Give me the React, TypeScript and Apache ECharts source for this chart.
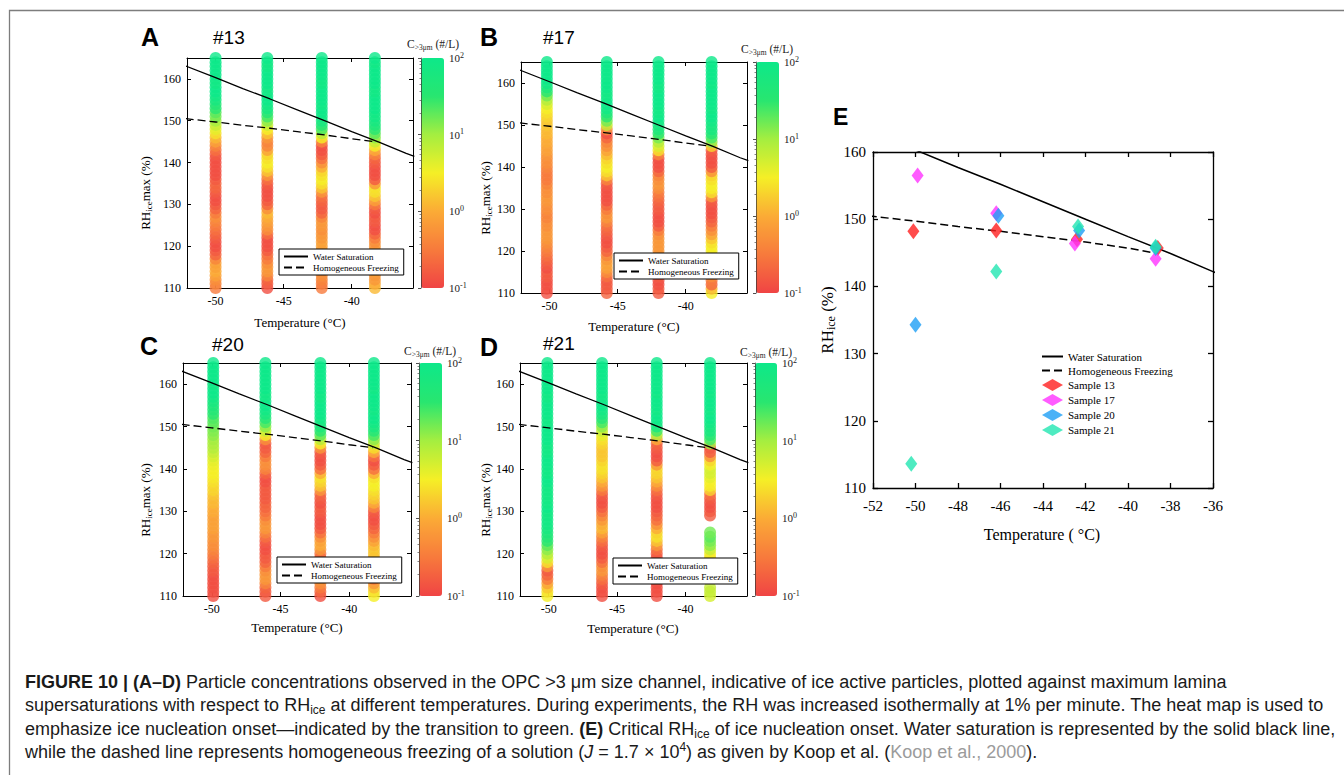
import { useEffect, useRef } from "react";
import * as echarts from "echarts";

const SERIF = "'Liberation Serif', 'Times New Roman', Times, serif";
const SANS = "'Liberation Sans', Arial, Helvetica, sans-serif";

// Maximum lamina RH_ice (%) levels sampled along each isothermal run
const rhLevels = [
  110, 111, 112, 113, 114, 115, 116, 117, 118, 119,
  120, 121, 122, 123, 124, 125, 126, 127, 128, 129,
  130, 131, 132, 133, 134, 135, 136, 137, 138, 139,
  140, 141, 142, 143, 144, 145, 146, 147, 148, 149,
  150, 151, 152, 153, 154, 155, 156, 157, 158, 159,
  160, 161, 162, 163, 164, 165,
];

// Run temperatures (°C) for each sample
const tempsS13 = [-50.0, -46.2, -42.2, -38.3];
const tempsS17 = [-50.2, -45.8, -42.0, -38.1];
const tempsS20 = [-49.9, -46.1, -42.1, -38.2];
const tempsS21 = [-50.1, -46.1, -42.1, -38.2];

// log10 of C>3µm (#/L) at each RH level, lowest RH first (null = no reading)
const s13Run1 = [
  -0.5, -0.4, -0.3, -0.1, 0.0, -0.1, -0.1, -0.4, -0.7, -0.8,
  -0.9, -0.9, -0.8, -0.7, -0.6, -0.5, -0.4, -0.3, -0.5, -0.7,
  -0.8, -0.9, -0.9, -0.8, -0.7, -0.7, -0.8, -0.9, -0.9, -0.9,
  -0.9, -0.9, -0.8, -0.6, -0.4, -0.1, 0.1, 0.4, 0.6, 0.8,
  1.0, 1.2, 1.3, 1.5, 1.6, 1.8, 1.9, 2.0, 2.0, 1.9,
  1.9, 2.0, 2.0, 2.0, 2.0, 2.0,
];
const s13Run2 = [
  -0.9, -0.8, -0.7, -0.4, -0.2, -0.2, -0.3, -0.5, -0.6, -0.8,
  -0.9, -0.9, -0.9, -0.6, -0.3, -0.2, -0.1, 0.0, 0.1, -0.3,
  -0.7, -0.8, -0.9, -0.9, -0.9, -0.8, -0.6, -0.2, 0.2, 0.4,
  0.5, 0.4, 0.3, -0.1, -0.4, -0.4, -0.2, 0.2, 0.5, 0.8,
  1.1, 1.4, 1.6, 1.8, 1.9, 2.0, 2.0, 1.9, 1.9, 2.0,
  2.0, 2.0, 2.0, 1.9, 1.9, 2.0,
];
const s13Run3 = [
  -0.5, -0.5, -0.4, -0.3, -0.3, -0.2, -0.2, -0.2, -0.2, -0.1,
  -0.1, -0.1, -0.2, -0.2, -0.3, -0.2, -0.2, -0.4, -0.7, -0.8,
  -0.8, -0.7, -0.6, -0.2, 0.2, 0.4, 0.5, 0.4, 0.3, 0.0,
  -0.3, -0.6, -0.8, -0.9, -0.9, -0.4, 0.5, 0.9, 1.4, 1.6,
  1.8, 1.9, 2.0, 2.0, 1.9, 2.0, 2.0, 2.0, 2.0, 1.9,
  1.9, 2.0, 2.0, 2.0, 2.0, 2.0,
];
const s13Run4 = [
  0.1, 0.0, -0.2, -0.2, -0.1, 0.0, 0.1, 0.1, 0.0, -0.1,
  -0.2, -0.3, -0.5, -0.7, -0.9, -0.9, -0.8, -0.8, -0.9, -0.8,
  -0.5, -0.1, 0.2, 0.4, 0.4, -0.2, -0.8, -0.9, -0.9, -0.9,
  -0.8, -0.7, -0.4, 0.0, 0.5, 0.8, 1.1, 1.3, 1.5, 1.7,
  1.8, 1.9, 1.9, 2.0, 2.0, 2.0, 2.0, 1.9, 1.9, 2.0,
  2.0, 2.0, 2.0, 2.0, 1.9, 2.0,
];

const s17Run1 = [
  -0.9, -0.9, -0.9, -0.9, -0.8, -0.8, -0.9, -0.8, -0.7, -0.6,
  -0.5, -0.4, -0.3, -0.2, -0.2, -0.2, -0.3, -0.3, -0.4, -0.4,
  -0.3, -0.3, -0.2, -0.2, -0.3, -0.3, -0.4, -0.5, -0.5, -0.5,
  -0.4, -0.3, -0.3, -0.2, -0.1, -0.1, 0.0, 0.0, 0.1, 0.1,
  0.2, 0.2, 0.3, 0.4, 0.5, 0.7, 0.9, 1.2, 1.5, 1.7,
  1.9, 2.0, 2.0, 2.0, 2.0, 2.0,
];
const s17Run2 = [
  -0.7, -0.8, -0.8, -0.8, -0.6, -0.3, -0.1, -0.1, -0.2, -0.4,
  -0.7, -0.8, -0.9, -0.9, -0.8, -0.7, -0.6, -0.4, -0.2, -0.3,
  -0.5, -0.7, -0.9, -0.9, -0.9, -0.9, -0.8, -0.4, 0.2, 0.4,
  0.5, 0.4, 0.3, 0.1, -0.1, -0.3, -0.4, -0.7, -0.9, -0.3,
  0.8, 1.2, 1.5, 1.7, 1.9, 2.0, 2.0, 1.9, 1.9, 2.0,
  2.0, 2.0, 2.0, 2.0, 2.0, 2.0,
];
const s17Run3 = [
  -0.8, -0.8, -0.9, -0.9, -0.8, -0.7, -0.6, -0.5, -0.4, -0.3,
  -0.2, -0.2, -0.2, -0.2, -0.3, -0.5, -0.8, -0.9, -0.9, -0.9,
  -0.8, -0.8, -0.7, -0.6, -0.5, -0.3, -0.2, -0.3, -0.4, -0.7,
  -0.9, -0.9, -0.9, -0.4, 0.4, 0.7, 0.9, 1.2, 1.5, 1.7,
  1.8, 1.9, 2.0, 1.9, 1.9, 2.0, 2.0, 2.0, 2.0, 1.9,
  1.9, 2.0, 2.0, 2.0, 2.0, 2.0,
];
const s17Run4 = [
  0.5, 0.1, -0.7, -0.5, -0.3, -0.1, 0.0, 0.1, 0.2, 0.4,
  0.5, 0.5, 0.4, 0.2, -0.1, -0.3, -0.5, -0.7, -0.8, -0.9,
  -0.9, -0.9, -0.8, -0.2, 0.4, 0.5, 0.5, 0.4, 0.3, -0.3,
  -0.8, -0.9, -0.9, -0.9, -0.8, 0.3, 1.1, 1.4, 1.6, 1.8,
  1.8, 1.9, 2.0, 2.0, 1.9, 2.0, 2.0, 2.0, 2.0, 2.0,
  1.9, 2.0, 2.0, 2.0, 2.0, 2.0,
];

const s20Run1 = [
  -0.9, -0.9, -0.9, -0.9, -0.9, -0.9, -0.8, -0.8, -0.7, -0.6,
  -0.5, -0.4, -0.3, -0.3, -0.2, -0.2, -0.1, -0.1, -0.1, -0.1,
  0.0, 0.0, 0.1, 0.1, 0.2, 0.3, 0.3, 0.4, 0.45, 0.5,
  0.5, 0.55, 0.6, 0.7, 0.8, 0.9, 0.95, 1.0, 1.1, 1.15,
  1.2, 1.3, 1.35, 1.5, 1.6, 1.7, 1.8, 1.9, 2.0, 2.0,
  1.9, 2.0, 2.0, 2.0, 2.0, 2.0,
];
const s20Run2 = [
  -0.8, -0.8, -0.7, -0.4, -0.2, -0.2, -0.3, -0.5, -0.7, -0.8,
  -0.8, -0.9, -0.9, -0.8, -0.6, -0.4, -0.2, -0.2, -0.3, -0.5,
  -0.6, -0.7, -0.7, -0.8, -0.8, -0.8, -0.8, -0.9, -0.9, -0.7,
  -0.4, -0.3, -0.3, -0.5, -0.7, -0.8, -0.8, -0.3, 0.5, 0.8,
  1.1, 1.4, 1.6, 1.8, 1.9, 2.0, 2.0, 1.9, 1.9, 2.0,
  2.0, 2.0, 2.0, 2.0, 2.0, 2.0,
];
const s20Run3 = [
  -0.9, -0.7, -0.5, -0.3, -0.2, -0.3, -0.4, -0.6, -0.8, -0.7,
  -0.6, -0.2, 0.0, -0.1, -0.3, -0.6, -0.8, -0.9, -0.9, -0.9,
  -0.8, -0.8, -0.9, -0.8, -0.7, -0.2, 0.2, 0.3, 0.4, 0.0,
  -0.6, -0.8, -0.9, -0.9, -0.8, -0.2, 0.5, 0.9, 1.3, 1.5,
  1.7, 1.8, 1.9, 2.0, 2.0, 2.0, 2.0, 1.9, 1.9, 2.0,
  2.0, 2.0, 2.0, 2.0, 2.0, 2.0,
];
const s20Run4 = [
  0.5, 0.4, 0.1, -0.2, -0.5, -0.6, -0.7, -0.5, -0.2, 0.0,
  0.2, 0.2, 0.1, -0.1, -0.3, -0.5, -0.7, -0.8, -0.9, -0.9,
  -0.8, -0.4, 0.0, 0.2, 0.3, 0.4, 0.5, 0.5, 0.4, 0.0,
  -0.6, -0.8, -0.9, -0.6, 0.0, 0.4, 0.8, 1.1, 1.4, 1.6,
  1.8, 1.9, 2.0, 2.0, 1.9, 2.0, 2.0, 2.0, 2.0, 1.9,
  2.0, 2.0, 2.0, 2.0, 2.0, 2.0,
];

const s21Run1 = [
  0.5, 0.4, 0.2, -0.1, -0.5, -0.7, -0.8, -0.2, 0.4, 0.7,
  0.9, 1.1, 1.3, 1.5, 1.6, 1.7, 1.8, 1.9, 1.9, 1.9,
  1.9, 2.0, 1.9, 1.9, 1.9, 1.9, 1.9, 2.0, 2.0, 1.9,
  1.9, 2.0, 2.0, 2.0, 1.9, 1.9, 1.9, 2.0, 2.0, 2.0,
  2.0, 1.9, 1.9, 2.0, 2.0, 2.0, 2.0, 1.9, 1.9, 2.0,
  2.0, 2.0, 2.0, 2.0, 2.0, 2.0,
];
const s21Run2 = [
  -0.9, -0.9, -0.9, -0.8, -0.6, -0.4, -0.2, -0.3, -0.6, -0.8,
  -0.9, -0.9, -0.8, -0.6, -0.4, -0.1, 0.1, 0.0, -0.2, -0.4,
  -0.6, -0.8, -0.9, -0.9, -0.8, -0.5, -0.2, 0.0, 0.2, 0.3,
  0.4, 0.4, 0.3, 0.2, 0.2, 0.2, 0.3, 0.4, 0.6, 0.8,
  1.1, 1.4, 1.6, 1.8, 1.9, 2.0, 2.0, 1.9, 1.9, 2.0,
  2.0, 2.0, 2.0, 2.0, 2.0, 2.0,
];
const s21Run3 = [
  -0.9, -0.9, -0.9, -0.9, -0.8, -0.8, -0.7, -0.8, -0.9, -0.9,
  -0.8, -0.6, -0.2, 0.2, 0.4, 0.3, 0.0, -0.3, -0.6, -0.7,
  -0.8, -0.9, -0.9, -0.9, -0.8, -0.6, -0.3, 0.0, 0.2, 0.3,
  0.3, -0.2, -0.8, -0.9, -0.9, -0.8, -0.7, 0.0, 0.9, 1.4,
  1.8, 1.9, 2.0, 2.0, 1.9, 2.0, 2.0, 2.0, 1.9, 2.0,
  2.0, 2.0, 2.0, 2.0, 2.0, 2.0,
];
const s21Run4 = [
  0.7, 0.8, 0.8, null, null, null, null, 0.3, 0.2, 0.3,
  0.5, 0.8, 1.1, 1.2, 1.3, 1.2, null, null, null, -0.8,
  -0.8, -0.9, -0.9, -0.8, -0.6, 0.3, 0.5, 0.5, 0.6, 0.7,
  0.7, 0.5, 0.3, -0.3, -0.8, -0.8, 1.0, 1.4, 1.6, 1.8,
  1.8, 1.9, 2.0, 2.0, 1.9, 2.0, 2.0, 2.0, 1.9, 2.0,
  2.0, 2.0, 2.0, 2.0, 2.0, 2.0,
];

// Heat-map colour scale, log10 C from 10^-1 to 10^2 #/L
const logCMin = -1;
const logCMax = 2;
const heatColors = ["#f04444", "#f77a3c", "#fbab36", "#f5ef26", "#a4ee40", "#28e670", "#0de889"];

// Water saturation and homogeneous freezing (Koop et al., 2000) in RH_ice (%)
const waterSatT = [-52.2, -50, -48, -46, -44, -42, -40, -38, -36, -35.4];
const waterSatRH = [163.1, 160.3, 157.7, 155.2, 152.6, 150.0, 147.4, 144.9, 142.2, 141.5];
const homFreezeT = [-52.2, -50, -48, -46, -44, -42, -40, -38.3];
const homFreezeRH = [150.5, 149.7, 148.9, 148.2, 147.4, 146.6, 145.7, 145.0];
const homFreezeEndT = -38.6;
const homFreezeEndRH = 144.9;

// Critical RH_ice of ice nucleation onset (panel E)
const onsetT13 = [-50.1, -46.2, -42.4, -38.6];
const onsetRH13 = [148.2, 148.3, 147.0, 145.7];
const onsetT17 = [-49.9, -46.2, -42.5, -38.7];
const onsetRH17 = [156.5, 150.9, 146.4, 144.1];
const onsetT20 = [-50.0, -46.1, -42.3, -38.7];
const onsetRH20 = [134.3, 150.5, 148.3, 145.7];
const onsetT21 = [-50.2, -46.2, -42.35, -38.7];
const onsetRH21 = [113.6, 142.2, 148.9, 145.9];

const panelTicksT = [-50, -45, -40];
const panelTicksRH = [110, 120, 130, 140, 150, 160];

const sampleNames = ["Sample 13", "Sample 17", "Sample 20", "Sample 21"];
const sampleColors = ["#ff1f1f", "#ff33ff", "#1e9ff5", "#22e6b2"];

const SAMPLES = [
  { tag: "#13", temps: tempsS13, runs: [s13Run1, s13Run2, s13Run3, s13Run4] },
  { tag: "#17", temps: tempsS17, runs: [s17Run1, s17Run2, s17Run3, s17Run4] },
  { tag: "#20", temps: tempsS20, runs: [s20Run1, s20Run2, s20Run3, s20Run4] },
  { tag: "#21", temps: tempsS21, runs: [s21Run1, s21Run2, s21Run3, s21Run4] },
];
const ONSETS = [
  { t: onsetT13, rh: onsetRH13 },
  { t: onsetT17, rh: onsetRH17 },
  { t: onsetT20, rh: onsetRH20 },
  { t: onsetT21, rh: onsetRH21 },
];

// Page layout of the four heat-map panels
const LAYOUT = [
  { letter: "A", grid: { left: 187, top: 58, width: 226, height: 230 }, bar: { left: 421, top: 58, width: 23, height: 230 }, legend: [279, 249], letterAt: [141, 37], tagAt: [213, 37], barTitleAt: [433, 44], xTitleAt: [300, 322], yTitleAt: [145, 193] },
  { letter: "B", grid: { left: 521, top: 62, width: 226, height: 231 }, bar: { left: 756, top: 62, width: 23, height: 231 }, legend: [614, 253], letterAt: [480, 37], tagAt: [543, 37], barTitleAt: [767, 49], xTitleAt: [634, 326], yTitleAt: [485, 198] },
  { letter: "C", grid: { left: 183, top: 363, width: 228, height: 233 }, bar: { left: 419, top: 363, width: 23, height: 233 }, legend: [277, 557], letterAt: [140, 346], tagAt: [212, 344], barTitleAt: [430, 351], xTitleAt: [297, 627], yTitleAt: [145, 500] },
  { letter: "D", grid: { left: 520, top: 363, width: 227, height: 233 }, bar: { left: 755, top: 363, width: 22, height: 233 }, legend: [613, 558], letterAt: [480, 347], tagAt: [543, 343], barTitleAt: [766, 352], xTitleAt: [633, 628], yTitleAt: [485, 500] },
];
const E_GRID = { left: 873, top: 152, width: 340, height: 336 };

const pairs = (xs: number[], ys: number[]) => xs.map((x, i) => [x, ys[i]]);

function heatPoints(temps: number[], runs: (number | null)[][]) {
  const pts: number[][] = [];
  runs.forEach((vals, c) => {
    vals.forEach((v, i) => {
      if (v !== null) pts.push([temps[c], rhLevels[i], v]);
    });
  });
  return pts;
}

function frameAxis(gridIndex: number, position: string, min: number, max: number, ticks: any, labels: boolean, fontSize: number, margin: number, len: number, width: number) {
  const tickCfg: any = { show: true, inside: true, length: len, lineStyle: { color: "#000", width } };
  const labelCfg: any = { show: labels, margin, color: "#000", fontFamily: SERIF, fontSize };
  const axis: any = {
    gridIndex,
    type: "value",
    position,
    min,
    max,
    axisLine: { show: true, onZero: false, lineStyle: { color: "#000", width } },
    axisTick: tickCfg,
    axisLabel: labelCfg,
    splitLine: { show: false },
  };
  if (Array.isArray(ticks)) {
    tickCfg.customValues = ticks;
    labelCfg.customValues = ticks;
  } else {
    axis.interval = ticks;
  }
  return axis;
}

const txt = (x: number, y: number, text: string, style: any, extra: any = {}) => ({
  type: "text",
  x,
  y,
  silent: true,
  style: { text, fill: "#000", ...style },
  ...extra,
});

// legend entries for the reference curves: line only, no marker
const curveEntry = (name: string) => ({ name, itemStyle: { opacity: 0 } });

function buildOption() {
  const grid: any[] = [];
  const xAxis: any[] = [];
  const yAxis: any[] = [];
  const series: any[] = [];
  const visualMap: any[] = [];
  const legend: any[] = [];
  const graphic: any[] = [];

  // heat-map panels A-D
  LAYOUT.forEach((L, k) => {
    grid.push({ ...L.grid });
    xAxis.push(frameAxis(k, "bottom", -52.1, -35.5, panelTicksT, true, 12, 7, 4, 1));
    xAxis.push(frameAxis(k, "top", -52.1, -35.5, panelTicksT, false, 12, 7, 4, 1));
    yAxis.push(frameAxis(k, "left", 110, 165, panelTicksRH, true, 12, 6, 4, 1));
    yAxis.push(frameAxis(k, "right", 110, 165, panelTicksRH, false, 12, 6, 4, 1));
  });
  // panel E
  grid.push({ ...E_GRID });
  xAxis.push(frameAxis(4, "bottom", -52, -36, 2, true, 15, 10, 5, 1.3));
  xAxis.push(frameAxis(4, "top", -52, -36, 2, false, 15, 10, 5, 1.3));
  yAxis.push(frameAxis(4, "left", 110, 160, 10, true, 15, 7, 5, 1.3));
  yAxis.push(frameAxis(4, "right", 110, 160, 10, false, 15, 7, 5, 1.3));
  // colour bars
  LAYOUT.forEach((L, k) => {
    const gi = 5 + k;
    grid.push({ ...L.bar });
    xAxis.push({ gridIndex: gi, type: "value", min: 0, max: 1, show: false });
    yAxis.push({
      gridIndex: gi,
      type: "log",
      logBase: 10,
      min: 0.1,
      max: 100,
      position: "right",
      z: 10,
      axisLine: { show: true, lineStyle: { color: "#333", width: 0.7 } },
      axisTick: { show: true, inside: true, length: 3, lineStyle: { color: "#222", width: 0.8 } },
      minorTick: { show: true, splitNumber: 10, length: 1.5, lineStyle: { color: "#333", width: 0.6 } },
      splitLine: { show: false },
      axisLabel: {
        margin: 5,
        formatter: (v: number) => `{b|10}{s|${Math.round(Math.log10(v))}}`,
        rich: {
          b: { fontFamily: SERIF, fontSize: 11, color: "#222", lineHeight: 14 },
          s: { fontFamily: SERIF, fontSize: 8, color: "#222", lineHeight: 9, verticalAlign: "top" },
        },
      },
    });
  });

  // heat-map columns
  SAMPLES.forEach((S, k) => {
    series.push({
      type: "scatter",
      name: `C>3μm ${S.tag}`,
      xAxisIndex: 2 * k,
      yAxisIndex: 2 * k,
      symbol: "circle",
      symbolSize: 12,
      silent: true,
      z: 2,
      data: heatPoints(S.temps, S.runs),
    });
    visualMap.push({
      type: "continuous",
      seriesIndex: k,
      dimension: 2,
      min: logCMin,
      max: logCMax,
      calculable: false,
      hoverLink: false,
      realtime: false,
      orient: "vertical",
      left: LAYOUT[k].bar.left,
      top: LAYOUT[k].bar.top,
      itemWidth: LAYOUT[k].bar.width,
      itemHeight: LAYOUT[k].bar.height,
      padding: 0,
      inRange: { color: heatColors },
      z: 4,
    });
  });
  // reference curves in A-D
  LAYOUT.forEach((L, k) => {
    series.push({
      type: "line",
      name: "Water Saturation",
      xAxisIndex: 2 * k,
      yAxisIndex: 2 * k,
      data: pairs(waterSatT, waterSatRH),
      symbol: "none",
      silent: true,
      z: 3,
      lineStyle: { color: "#000", width: 1.3 },
      itemStyle: { color: "#000" },
    });
    series.push({
      type: "line",
      name: "Homogeneous Freezing",
      xAxisIndex: 2 * k,
      yAxisIndex: 2 * k,
      data: pairs(homFreezeT, homFreezeRH),
      symbol: "none",
      silent: true,
      z: 3,
      lineStyle: { color: "#000", width: 1.3, type: [8, 4] },
      itemStyle: { color: "#000" },
    });
    legend.push({
      data: [curveEntry("Water Saturation"), curveEntry("Homogeneous Freezing")],
      left: L.legend[0],
      top: L.legend[1],
      orient: "vertical",
      itemWidth: 24,
      itemHeight: 9,
      itemGap: 2,
      padding: [3, 5, 3, 4],
      borderColor: "#000",
      borderWidth: 1,
      backgroundColor: "#fff",
      selectedMode: false,
      z: 6,
      textStyle: { fontFamily: SERIF, fontSize: 9, color: "#000" },
    });
  });
  // panel E
  series.push({
    type: "line",
    name: "Water Saturation",
    xAxisIndex: 8,
    yAxisIndex: 8,
    data: pairs(waterSatT, waterSatRH),
    symbol: "none",
    silent: true,
    z: 3,
    lineStyle: { color: "#000", width: 1.5 },
  });
  series.push({
    type: "line",
    name: "Homogeneous Freezing",
    xAxisIndex: 8,
    yAxisIndex: 8,
    data: pairs(homFreezeT.slice(0, 7), homFreezeRH.slice(0, 7)).concat([[homFreezeEndT, homFreezeEndRH]]),
    symbol: "none",
    silent: true,
    z: 3,
    lineStyle: { color: "#000", width: 1.5, type: [8, 4] },
  });
  ONSETS.forEach((o, k) => {
    series.push({
      type: "scatter",
      name: sampleNames[k],
      xAxisIndex: 8,
      yAxisIndex: 8,
      symbol: "diamond",
      symbolSize: [12, 16],
      silent: true,
      z: 4,
      itemStyle: { color: sampleColors[k] },
      data: pairs(o.t, o.rh),
    });
  });
  legend.push({
    data: [curveEntry("Water Saturation"), curveEntry("Homogeneous Freezing"), ...sampleNames],
    left: 1041,
    top: 351,
    orient: "vertical",
    itemWidth: 21,
    itemHeight: 12,
    itemGap: 3,
    padding: 0,
    selectedMode: false,
    textStyle: { fontFamily: SERIF, fontSize: 11, color: "#000" },
  });

  // titles and labels
  const ttl = { fontFamily: SERIF, fontSize: 13, lineHeight: 16 };
  const ttlSub = { fontFamily: SERIF, fontSize: 9, lineHeight: 9, verticalAlign: "bottom" };
  LAYOUT.forEach((L, k) => {
    graphic.push(txt(L.letterAt[0], L.letterAt[1], L.letter, { fontFamily: SANS, fontWeight: "bold", fontSize: 25, align: "left", verticalAlign: "middle" }));
    graphic.push(txt(L.tagAt[0], L.tagAt[1], SAMPLES[k].tag, { fontFamily: SANS, fontSize: 19, align: "left", verticalAlign: "middle" }));
    graphic.push(
      txt(L.barTitleAt[0], L.barTitleAt[1], "{c|C}{s|>3μm}{c| (#/L)}", {
        align: "center",
        verticalAlign: "middle",
        fill: "#222",
        rich: {
          c: { fontFamily: SERIF, fontSize: 11.5, lineHeight: 14 },
          s: { fontFamily: SERIF, fontSize: 7.5, lineHeight: 7, verticalAlign: "bottom" },
        },
      })
    );
    graphic.push(txt(L.xTitleAt[0], L.xTitleAt[1], "{a|Temperature (°C)}", { align: "center", verticalAlign: "middle", rich: { a: ttl } }));
    graphic.push(
      txt(L.yTitleAt[0], L.yTitleAt[1], "{a|RH}{s|ice}{a|max (%)}", { align: "center", verticalAlign: "middle", rich: { a: ttl, s: ttlSub } }, { rotation: Math.PI / 2 })
    );
  });
  graphic.push(txt(833, 117, "E", { fontFamily: SANS, fontWeight: "bold", fontSize: 23, align: "left", verticalAlign: "middle" }));
  graphic.push(txt(1042, 534, "{a|Temperature ( °C)}", { align: "center", verticalAlign: "middle", rich: { a: { fontFamily: SERIF, fontSize: 16, lineHeight: 18 } } }));
  graphic.push(
    txt(827, 320, "{a|RH}{s|ice}{a| (%)}", {
      align: "center",
      verticalAlign: "middle",
      rich: { a: { fontFamily: SERIF, fontSize: 17, lineHeight: 19 }, s: { fontFamily: SERIF, fontSize: 12, lineHeight: 10, verticalAlign: "bottom" } },
    }, { rotation: Math.PI / 2 })
  );

  // figure caption
  const cap = { fontFamily: SANS, fontSize: 18, lineHeight: 22 };
  const capRich = {
    n: cap,
    b: { ...cap, fontWeight: "bold" },
    i: { ...cap, fontStyle: "italic" },
    g: { ...cap, fill: "#9b9b9b" },
    sub: { fontFamily: SANS, fontSize: 12, lineHeight: 11, verticalAlign: "bottom" },
    sup: { fontFamily: SANS, fontSize: 12, lineHeight: 11, verticalAlign: "top" },
  };
  const captionLines = [
    "{b|FIGURE 10 | (A–D)}{n| Particle concentrations observed in the OPC >3 μm size channel, indicative of ice active particles, plotted against maximum lamina}",
    "{n|supersaturations with respect to RH}{sub|ice}{n| at different temperatures. During experiments, the RH was increased isothermally at 1% per minute. The heat map is used to}",
    "{n|emphasize ice nucleation onset—indicated by the transition to green. }{b|(E)}{n| Critical RH}{sub|ice}{n| of ice nucleation onset. Water saturation is represented by the solid black line,}",
    "{n|while the dashed line represents homogeneous freezing of a solution (}{i|J}{n| = 1.7 × 10}{sup|4}{n|) as given by Koop et al. (}{g|Koop et al., 2000}{n|).}",
  ];
  const capY = [682, 705, 728.5, 752];
  captionLines.forEach((line, i) => {
    graphic.push(txt(25, capY[i], line, { fill: "#1a1a1a", align: "left", verticalAlign: "middle", rich: capRich }));
  });

  // outer frame
  graphic.push({
    type: "polyline",
    silent: true,
    shape: { points: [[9.5, 776], [9.5, 10.5], [1345, 10.5]] },
    style: { stroke: "#7d7d7d", lineWidth: 1.3, fill: null },
  });

  return {
    animation: false,
    backgroundColor: "#ffffff",
    grid,
    xAxis,
    yAxis,
    visualMap,
    legend,
    series,
    graphic: { elements: graphic },
  };
}

export default function App() {
  const ref = useRef<HTMLDivElement>(null);
  useEffect(() => {
    if (!ref.current) return;
    const chart = echarts.init(ref.current, null, { renderer: "svg" });
    chart.setOption(buildOption() as any);
    return () => chart.dispose();
  }, []);
  return <div ref={ref} style={{ position: "absolute", left: 0, top: 0, width: 1344, height: 775, background: "#fff" }} />;
}
